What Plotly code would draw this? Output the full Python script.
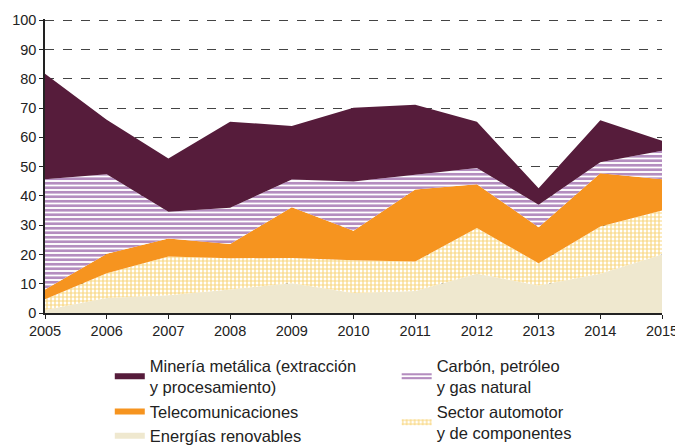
import plotly.graph_objects as go

years = [2005, 2006, 2007, 2008, 2009, 2010, 2011, 2012, 2013, 2014, 2015]
renovables = [1.0, 5.1, 6.1, 8.0, 10.2, 6.8, 7.5, 13.4, 9.4, 13.4, 20.0]
automotor = [3.7, 8.5, 13.2, 10.7, 8.6, 11.2, 10.1, 15.6, 7.6, 16.1, 15.0]
telecom = [3.3, 6.6, 6.1, 4.9, 17.3, 10.1, 24.6, 15.0, 12.3, 18.2, 10.7]
carbon = [37.7, 27.2, 9.2, 12.3, 9.5, 16.8, 5.0, 5.5, 7.7, 3.8, 9.7]
mineria = [36.0, 18.6, 18.2, 29.4, 18.3, 25.2, 23.9, 15.8, 5.6, 14.3, 3.4]

y_ticks = [0, 10, 20, 30, 40, 50, 60, 70, 80, 90, 100]

FONT = "Liberation Sans, Arial, sans-serif"

fig = go.Figure()

fig.add_trace(go.Scatter(
    x=years, y=renovables, name="Energías renovables", stackgroup="s",
    mode="none", fillcolor="#efe8cf", legend="legend"))
fig.add_trace(go.Scatter(
    x=years, y=automotor, name="Sector automotor<br>y de componentes", stackgroup="s",
    mode="none", fillcolor="#ffffff",
    fillpattern=dict(shape="+", fgcolor="#f2ae00", bgcolor="#ffffff", size=4, solidity=0.5),
    legend="legend2"))
fig.add_trace(go.Scatter(
    x=years, y=telecom, name="Telecomunicaciones", stackgroup="s",
    mode="none", fillcolor="#f6941f", legend="legend"))
fig.add_trace(go.Scatter(
    x=years, y=carbon, name="Carbón, petróleo<br>y gas natural", stackgroup="s",
    mode="none", fillcolor="#ffffff",
    fillpattern=dict(shape="-", fgcolor="#6a1c80", bgcolor="#ffffff", size=4.5, solidity=0.6),
    legend="legend2"))
fig.add_trace(go.Scatter(
    x=years, y=mineria, name="Minería metálica (extracción<br>y procesamiento)", stackgroup="s",
    mode="none", fillcolor="#561c3b", legend="legend"))

# the page body has an 8px margin, so the figure is sized/positioned to compensate
fig.update_layout(
    width=675, height=438,
    margin=dict(l=37, r=21, t=11, b=133, autoexpand=False),
    paper_bgcolor="white", plot_bgcolor="white",
    font=dict(family=FONT, size=14, color="#222222"),
    xaxis=dict(
        range=[2005, 2015], tickmode="array", tickvals=years,
        showgrid=False, showline=True, linecolor="#222222", linewidth=1.5,
        ticks="outside", ticklen=4, tickcolor="#222222",
        tickfont=dict(size=14.5, family=FONT, color="#222222"),
        zeroline=False,
    ),
    yaxis=dict(
        range=[0, 100.4], tickmode="array", tickvals=y_ticks,
        showgrid=True, gridcolor="#444444", griddash="dash", gridwidth=1,
        showline=True, linecolor="#222222", linewidth=1.5,
        ticks="outside", ticklen=4, tickcolor="#222222",
        tickfont=dict(size=14.5, family=FONT, color="#222222"),
        zeroline=False,
    ),
    legend=dict(
        x=0.105, y=-0.12, xanchor="left", yanchor="top",
        traceorder="reversed", font=dict(size=16.5, family=FONT, color="#222222"),
        bgcolor="rgba(0,0,0,0)", tracegroupgap=0, itemsizing="constant",
    ),
    legend2=dict(
        x=0.57, y=-0.12, xanchor="left", yanchor="top",
        traceorder="reversed", font=dict(size=16.5, family=FONT, color="#222222"),
        bgcolor="rgba(0,0,0,0)", tracegroupgap=0, itemsizing="constant",
    ),
)

fig.write_html("out.html")
